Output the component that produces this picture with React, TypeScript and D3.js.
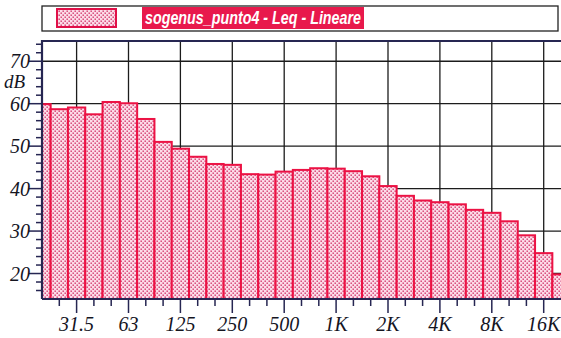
import React from "react";
import * as d3 from "d3";

// One-third octave band centres, 20 Hz .. 20 kHz (band index n => 10^(n/10) Hz)
const bandIndex: number[] = d3.range(13, 44);
const levels: number[] = [
  59.9, 58.7, 59.1, 57.5, 60.4, 60.1, 56.4, 51.0, 49.4, 47.5,
  45.8, 45.6, 43.4, 43.3, 44.0, 44.4, 44.8, 44.7, 44.1, 42.9,
  40.6, 38.3, 37.2, 36.8, 36.3, 35.0, 34.3, 32.3, 29.0, 24.8, 19.8,
];
const octaveLabels: string[] = ["31.5", "63", "125", "250", "500", "1K", "2K", "4K", "8K", "16K"];
const octaveIndex: number[] = [15, 18, 21, 24, 27, 30, 33, 36, 39, 42];
const yTicksMajor: number[] = [20, 30, 40, 50, 60, 70];
const yDomain: [number, number] = [14, 75];
const legendText = "sogenus_punto4 - Leq - Lineare";

const W = 561;
const H = 338;
const left = 42;
const right = 561;
const top = 40;
const bottom = 299;

const freq = (n: number) => Math.pow(10, n / 10);

export default function App() {
  const x = d3.scaleLog().domain([freq(13), freq(43)]).range([left, right]);
  const y = d3.scaleLinear().domain(yDomain).range([bottom, top]);
  const half = (x(freq(14)) - x(freq(13))) / 2;
  const minorY = d3.range(16, 75, 2).filter((v) => v % 10 !== 0);
  const axisColor = "#262652";
  const textColor = "#15151f";
  const serif = "'Liberation Serif', 'Times New Roman', serif";

  return (
    <svg
      width={W}
      height={H}
      style={{ position: "absolute", left: 0, top: 0, background: "#fff" }}
    >
      <defs>
        <pattern id="dots" width={4} height={4} patternUnits="userSpaceOnUse">
          <rect width={4} height={4} fill="#fcdce8" />
          <rect x={0.5} y={0.5} width={1.4} height={1.4} fill="#d23268" />
          <rect x={2.5} y={2.5} width={1.4} height={1.4} fill="#d23268" />
        </pattern>
        <clipPath id="plot">
          <rect x={left} y={top} width={right - left} height={bottom - top} />
        </clipPath>
      </defs>

      {/* legend */}
      <rect x={42} y={6} width={516} height={25} fill="#fff" stroke="#222" strokeWidth={1.3} />
      <rect x={57} y={9} width={59} height={18} fill="url(#dots)" stroke="#e01048" strokeWidth={2} />
      <rect x={142} y={7} width={222} height={22} fill="#e8194c" />
      <text
        x={145}
        y={24}
        fill="#fff"
        fontFamily="'Liberation Sans', Arial, sans-serif"
        fontStyle="italic"
        fontWeight="bold"
        fontSize={19}
        textLength={216}
        lengthAdjust="spacingAndGlyphs"
      >
        {legendText}
      </text>

      {/* grid */}
      <g stroke="#1c1c1c" strokeWidth={1.3}>
        {yTicksMajor.map((v) => (
          <line key={"h" + v} x1={left} x2={right} y1={y(v)} y2={y(v)} />
        ))}
        {octaveIndex.map((n) => (
          <line key={"v" + n} x1={x(freq(n))} x2={x(freq(n))} y1={top} y2={bottom} />
        ))}
      </g>

      {/* bars */}
      <g clipPath="url(#plot)">
        {levels.map((v, i) => {
          const cx = x(freq(bandIndex[i]));
          return (
            <rect
              key={i}
              x={cx - half}
              y={y(v)}
              width={half * 2}
              height={bottom - y(v)}
              fill="url(#dots)"
              stroke="#ec1244"
              strokeWidth={2}
            />
          );
        })}
      </g>

      {/* frame */}
      <line x1={left} x2={right} y1={top + 1} y2={top + 1} stroke={axisColor} strokeWidth={2} />
      <line x1={left} x2={left} y1={top} y2={bottom} stroke={axisColor} strokeWidth={2.2} />
      <line x1={left} x2={right} y1={bottom} y2={bottom} stroke={axisColor} strokeWidth={2.2} />

      {/* y ticks */}
      <g stroke={axisColor} strokeWidth={1.5}>
        {minorY.map((v) => (
          <line key={"m" + v} x1={left - 6} x2={left} y1={y(v)} y2={y(v)} />
        ))}
        {yTicksMajor.map((v) => (
          <line key={"M" + v} x1={left - 13} x2={left} y1={y(v)} y2={y(v)} />
        ))}
      </g>
      <g fontFamily={serif} fontStyle="italic" fontSize={20} fill={textColor} textAnchor="end">
        {yTicksMajor.map((v) => (
          <text key={v} x={30} y={y(v) + 7}>
            {v}
          </text>
        ))}
        <text x={25} y={88} fontSize={19}>
          dB
        </text>
      </g>

      {/* x ticks */}
      <g stroke={axisColor} strokeWidth={1.5}>
        {bandIndex.slice(1).map((n) => {
          const major = octaveIndex.includes(n);
          const px = x(freq(n));
          if (px > right - 1) return null;
          return <line key={n} x1={px} x2={px} y1={bottom} y2={bottom + (major ? 14 : 7)} />;
        })}
      </g>
      <g fontFamily={serif} fontStyle="italic" fontSize={20} fill={textColor} textAnchor="middle">
        {octaveIndex.map((n, i) => (
          <text key={n} x={x(freq(n))} y={331}>
            {octaveLabels[i]}
          </text>
        ))}
      </g>
    </svg>
  );
}
